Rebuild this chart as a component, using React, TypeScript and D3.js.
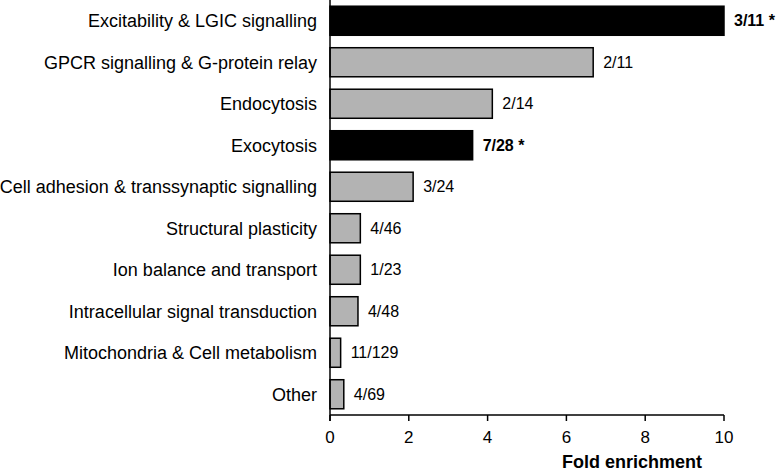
import React from "react";
import * as d3 from "d3";

const categories = [
  "Excitability & LGIC signalling",
  "GPCR signalling & G-protein relay",
  "Endocytosis",
  "Exocytosis",
  "Cell adhesion & transsynaptic signalling",
  "Structural plasticity",
  "Ion balance and transport",
  "Intracellular signal transduction",
  "Mitochondria & Cell metabolism",
  "Other",
];
const foldEnrichment = [10.0, 6.68, 4.12, 3.62, 2.11, 0.77, 0.77, 0.71, 0.27, 0.35];
const countLabels = ["3/11 *", "2/11", "2/14", "7/28 *", "3/24", "4/46", "1/23", "4/48", "11/129", "4/69"];
const significant = [true, false, false, true, false, false, false, false, false, false];
const xTicks = [0, 2, 4, 6, 8, 10];
const xTitle = "Fold enrichment";

export default function App() {
  const W = 777;
  const H = 472;
  const x = d3.scaleLinear().domain([0, 10]).range([330, 724]);
  const y = d3
    .scaleBand<string>()
    .domain(categories)
    .range([0, 415])
    .paddingInner(0.3)
    .paddingOuter(0.15);
  const font = "Arial, 'Liberation Sans', Helvetica, sans-serif";
  const axisY = 415;

  return (
    <svg
      width={W}
      height={H}
      style={{ position: "absolute", left: 0, top: 0, background: "#fff" }}
      fontFamily={font}
    >
      {categories.map((c, i) => {
        const yy = y(c)!;
        const bw = y.bandwidth();
        return (
          <g key={c}>
            <rect
              x={x(0)}
              y={yy}
              width={x(foldEnrichment[i]) - x(0)}
              height={bw}
              fill={significant[i] ? "#000" : "#b3b3b3"}
              stroke="#000"
              strokeWidth={1.5}
            />
            <text
              x={x(0) - 13}
              y={yy + bw / 2}
              dy="0.35em"
              textAnchor="end"
              fontSize={18}
              fill="#000"
            >
              {c}
            </text>
            <text
              x={x(foldEnrichment[i]) + 10}
              y={yy + bw / 2}
              dy="0.35em"
              textAnchor="start"
              fontSize={16}
              fontWeight={significant[i] ? "bold" : "normal"}
              fill="#000"
            >
              {countLabels[i]}
            </text>
          </g>
        );
      })}
      {/* y axis line */}
      <line x1={x(0)} x2={x(0)} y1={0} y2={axisY + 6} stroke="#000" strokeWidth={1.5} />
      {/* x axis line */}
      <line x1={x(0)} x2={x(10)} y1={axisY} y2={axisY} stroke="#000" strokeWidth={1.5} />
      {xTicks.map((t) => (
        <g key={t}>
          <line x1={x(t)} x2={x(t)} y1={axisY} y2={axisY + 6} stroke="#000" strokeWidth={1.5} />
          <text x={x(t)} y={443} textAnchor="middle" fontSize={17} fill="#000">
            {t}
          </text>
        </g>
      ))}
      <text x={632} y={468} textAnchor="middle" fontSize={18} fontWeight="bold" fill="#000">
        {xTitle}
      </text>
    </svg>
  );
}
